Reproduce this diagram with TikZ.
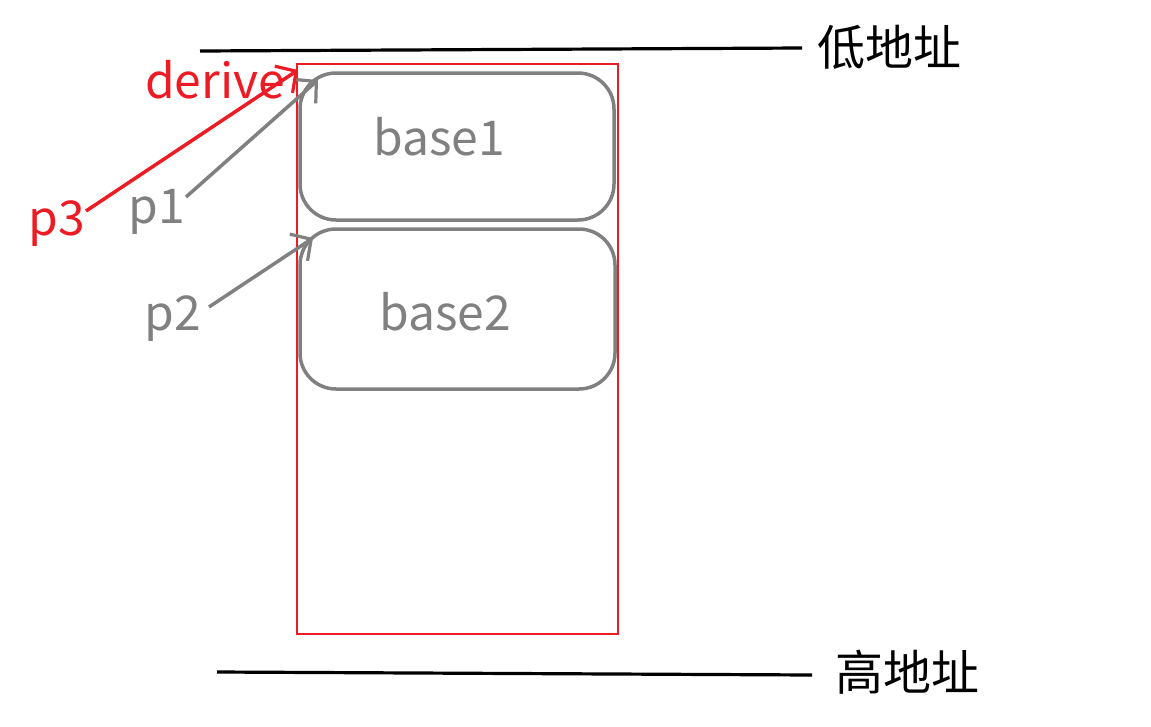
\documentclass[tikz,border=0pt]{standalone}
\usepackage{fontspec}
\setmainfont{Noto Sans CJK SC}
\usetikzlibrary{arrows.meta}
\definecolor{myred}{HTML}{ED1C24}
\definecolor{mygray}{HTML}{808080}
\tikzset{
  addrline/.style={line width=3.2pt, black},
  addrlabel/.style={font=\fontsize{48}{52}\selectfont, text=black, inner sep=0pt, anchor=west},
  basebox/.style={draw=mygray, line width=3.5pt, rounded corners=36pt},
  basetext/.style={font=\fontsize{48}{52}\selectfont, text=mygray},
  ptr/.style={line width=3.5pt, -{Straight Barb[length=15pt,width=32pt,line width=3.2pt]}},
  ptrlabel/.style={font=\fontsize{48}{52}\selectfont, inner sep=0pt},
}
\begin{document}
\begin{tikzpicture}[x=1pt,y=-1pt]
\useasboundingbox (0,0) rectangle (1151,726);
% address lines
\coordinate (lowL) at (200,51);
\coordinate (lowR) at (802,48);
\coordinate (highL) at (217,672);
\coordinate (highR) at (812,675);
\draw[addrline] (lowL) -- (lowR);
\draw[addrline] (highL) -- (highR);
\node[addrlabel] (low) at (817,47) {低地址};
\node[addrlabel] (high) at (835,672) {高地址};
% red frame
\draw[myred, line width=2pt] (297,64) rectangle (618,634);
% base boxes
\draw[basebox] (300,73) rectangle (614,220);
\draw[basebox] (300,229) rectangle (615,389);
\node[basetext] (b1) at (439,137) {base1};
\node[basetext] (b2) at (445,312) {base2};
% labels
\node[ptrlabel, text=mygray] (p1) at (157,212) {p1};
\node[ptrlabel, text=mygray] (p2) at (173,319) {p2};
\node[ptrlabel, text=myred] (p3) at (57,224) {p3};
\node[ptrlabel, text=myred] (derive) at (215,80) {derive};
% arrows
\coordinate (p1s) at (186,197);
\coordinate (p1e) at (318,80);
\coordinate (p2s) at (209,307);
\coordinate (p2e) at (313,238);
\coordinate (p3s) at (86,211);
\coordinate (p3e) at (298,70);
\draw[ptr, mygray] (p1s) -- (p1e);
\draw[ptr, mygray] (p2s) -- (p2e);
\draw[ptr, myred] (p3s) -- (p3e);
\end{tikzpicture}
\end{document}
